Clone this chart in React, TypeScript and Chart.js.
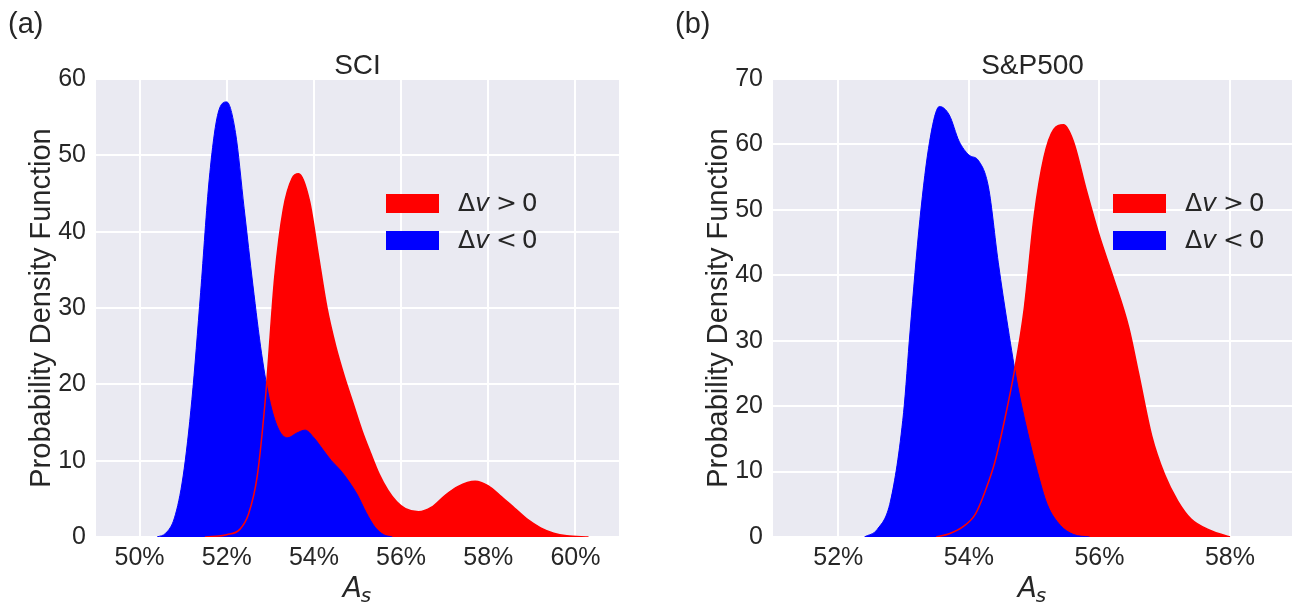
import React, { useEffect, useRef } from "react";
import { Chart, registerables } from "chart.js";
Chart.register(...registerables);

// ---- Data ----
const sciXTicks = [50, 52, 54, 56, 58, 60];
const sciYTicks = [0, 10, 20, 30, 40, 50, 60];
const spXTicks = [52, 54, 56, 58];
const spYTicks = [0, 10, 20, 30, 40, 50, 60, 70];

// SCI, Δv > 0 (red)
const sciPosX = [51.5, 52.0, 52.3, 52.5, 52.7, 52.9, 53.1, 53.3, 53.5, 53.65, 53.9, 54.1, 54.3, 54.5, 54.7, 54.9, 55.1, 55.3, 55.5, 55.7, 55.9, 56.1, 56.4, 56.7, 57.0, 57.3, 57.7, 58.0, 58.3, 58.6, 58.9, 59.2, 59.5, 59.8, 60.3];
const sciPosY = [0, 0.3, 1, 3, 8, 19, 34, 43, 47, 47.6, 44, 37, 30, 25, 21, 17.5, 14, 11, 8.2, 6.1, 4.6, 3.7, 3.3, 3.9, 5.4, 6.6, 7.3, 6.7, 5.3, 3.8, 2.3, 1.2, 0.5, 0.15, 0];
// SCI, Δv < 0 (blue)
const sciNegX = [50.4, 50.6, 50.8, 51.0, 51.2, 51.4, 51.6, 51.8, 52.0, 52.2, 52.4, 52.6, 52.8, 53.0, 53.2, 53.4, 53.6, 53.8, 54.0, 54.2, 54.4, 54.6, 54.8, 55.0, 55.2, 55.4, 55.6, 55.8];
const sciNegY = [0, 0.5, 2.5, 8, 18, 32, 47, 55.5, 57, 53, 43, 33, 24, 17.5, 14, 13, 13.6, 14, 13, 11.5, 10, 8.8, 7.3, 5.5, 3.2, 1.3, 0.3, 0];

// S&P500, Δv > 0 (red)
const spPosX = [53.5, 53.7, 53.9, 54.1, 54.25, 54.4, 54.55, 54.7, 54.85, 55.0, 55.15, 55.3, 55.45, 55.6, 55.8, 56.0, 56.2, 56.45, 56.6, 56.8, 57.0, 57.2, 57.4, 57.7, 58.0];
const spPosY = [0, 0.5, 1.5, 3.5, 7, 11.5, 18, 25.5, 35, 49, 58, 62.3, 63, 60.5, 53, 46, 40, 32, 25, 15.5, 9.5, 5.5, 2.8, 1, 0];
// S&P500, Δv < 0 (blue)
const spNegX = [52.4, 52.6, 52.8, 53.0, 53.1, 53.25, 53.4, 53.55, 53.7, 53.85, 54.0, 54.15, 54.3, 54.45, 54.6, 54.75, 54.9, 55.05, 55.2, 55.4, 55.6, 55.85];
const spNegY = [0, 1.2, 5.5, 19, 31.5, 48.5, 60.5, 65.8, 64.5, 60.5, 58.4, 57.5, 53.5, 42, 32, 23, 16, 10, 5, 1.8, 0.4, 0];

const legendLabels = ["Δv > 0", "Δv < 0"];

const TEXT = "#262626";
const BG = "#EAEAF2";
const SANS = "'Liberation Sans', Arial, sans-serif";
const MATH = "'DejaVu Sans', sans-serif";

const pts = (xs: number[], ys: number[]) => xs.map((x, i) => ({ x, y: ys[i] }));

type PanelCfg = {
  letter: string;
  title: string;
  canvasLeft: number;
  canvasWidth: number;
  yWidth: number;
  rightPad: number;
  xMin: number;
  xMax: number;
  yMax: number;
  xTicks: number[];
  yTicks: number[];
  posX: number[];
  posY: number[];
  negX: number[];
  negY: number[];
  legendX: number;
  yTitlePad: number;
};

function drawMathLabel(ctx: CanvasRenderingContext2D, label: string, x: number, y: number) {
  const parts = label.split("v");
  ctx.fillStyle = TEXT;
  ctx.textBaseline = "middle";
  ctx.textAlign = "left";
  let cx = x;
  ctx.font = `25px ${MATH}`;
  ctx.fillText(parts[0], cx, y);
  cx += ctx.measureText(parts[0]).width;
  ctx.font = `italic 25px ${MATH}`;
  ctx.fillText("v", cx, y);
  cx += ctx.measureText("v").width + 6;
  ctx.font = `25px ${MATH}`;
  const rest = parts[1].trim();
  const [op, num] = rest.split(" ");
  ctx.fillText(op, cx, y);
  cx += ctx.measureText(op).width + 5;
  ctx.fillText(num, cx, y);
}

function Panel({ cfg }: { cfg: PanelCfg }) {
  const ref = useRef<HTMLCanvasElement | null>(null);
  useEffect(() => {
    if (!ref.current) return;
    const decor = {
      id: "decor",
      beforeDraw(chart: any) {
        const { ctx, chartArea: a } = chart;
        ctx.save();
        ctx.fillStyle = BG;
        ctx.fillRect(a.left, a.top, a.right - a.left, a.bottom - a.top);
        ctx.restore();
      },
      afterDraw(chart: any) {
        const { ctx, chartArea: a } = chart;
        ctx.save();
        ctx.fillStyle = TEXT;
        ctx.font = `29px ${SANS}`;
        ctx.textAlign = "left";
        ctx.textBaseline = "middle";
        ctx.fillText(cfg.letter, cfg.canvasLeft === 0 ? 8 : 25, 25);
        ctx.font = `28px ${SANS}`;
        ctx.textAlign = "center";
        ctx.textBaseline = "alphabetic";
        ctx.fillText(cfg.title, (a.left + a.right) / 2, 74);
        const cxm = (a.left + a.right) / 2;
        ctx.font = `italic 28px ${MATH}`;
        const wA = ctx.measureText("A").width;
        ctx.font = `italic 20px ${MATH}`;
        const wS = ctx.measureText("s").width;
        const start = cxm - (wA + wS) / 2;
        ctx.textAlign = "left";
        ctx.font = `italic 28px ${MATH}`;
        ctx.fillText("A", start, 597);
        ctx.font = `italic 20px ${MATH}`;
        ctx.fillText("s", start + wA - 1, 602);
        const colors = ["#FF0000", "#0000FF"];
        const tops = [194, 231];
        legendLabels.forEach((lab, i) => {
          ctx.fillStyle = colors[i];
          ctx.fillRect(cfg.legendX, tops[i], 53, 19);
          drawMathLabel(ctx, lab, cfg.legendX + 72, tops[i] + 10);
        });
        ctx.restore();
      },
    };

    const chart = new Chart(ref.current, {
      type: "line",
      data: {
        datasets: [
          {
            label: "pos-fill",
            data: pts(cfg.posX, cfg.posY),
            backgroundColor: "#FF0000",
            borderWidth: 0,
            borderColor: "rgba(0,0,0,0)",
            fill: "origin",
            order: 3,
          },
          {
            label: "neg-fill",
            data: pts(cfg.negX, cfg.negY),
            backgroundColor: "#0000FF",
            borderColor: "#0000FF",
            borderWidth: 1,
            fill: "origin",
            order: 2,
          },
          {
            label: "pos-line",
            data: pts(cfg.posX, cfg.posY),
            borderColor: "#FF0000",
            borderWidth: 1.5,
            fill: false,
            order: 1,
          },
        ],
      },
      options: {
        animation: false,
        responsive: false,
        devicePixelRatio: 1,
        elements: {
          point: { radius: 0, hoverRadius: 0 },
          line: { cubicInterpolationMode: "monotone" },
        },
        layout: { padding: { left: 0, top: 79, right: cfg.rightPad, bottom: 0 } },
        plugins: {
          legend: { display: false },
          tooltip: { enabled: false },
          title: { display: false },
        },
        scales: {
          x: {
            type: "linear",
            min: cfg.xMin,
            max: cfg.xMax,
            afterBuildTicks: (s: any) => {
              s.ticks = cfg.xTicks.map((v) => ({ value: v }));
            },
            afterFit: (s: any) => {
              s.height = 602 - 537;
            },
            grid: { color: "#FFFFFF", lineWidth: 2, drawTicks: false },
            border: { display: false },
            ticks: {
              padding: 6,
              color: TEXT,
              font: { family: SANS, size: 25 },
              maxRotation: 0,
              callback: (v: any) => `${v}%`,
            },
          },
          y: {
            type: "linear",
            min: 0,
            max: cfg.yMax,
            afterBuildTicks: (s: any) => {
              s.ticks = cfg.yTicks.map((v) => ({ value: v }));
            },
            afterFit: (s: any) => {
              s.width = cfg.yWidth;
            },
            grid: { color: "#FFFFFF", lineWidth: 2, drawTicks: false },
            border: { display: false },
            ticks: {
              padding: 10,
              color: TEXT,
              font: { family: SANS, size: 25 },
            },
            title: {
              display: true,
              text: "Probability Density Function",
              color: TEXT,
              font: { family: SANS, size: 29 },
              padding: { top: cfg.yTitlePad, bottom: 0 },
            },
          },
        },
      } as any,
      plugins: [decor],
    });
    return () => chart.destroy();
  }, [cfg]);

  return (
    <canvas
      ref={ref}
      width={cfg.canvasWidth}
      height={602}
      style={{ position: "absolute", left: cfg.canvasLeft, top: 0, width: cfg.canvasWidth, height: 602 }}
    />
  );
}

const panelA: PanelCfg = {
  letter: "(a)",
  title: "SCI",
  canvasLeft: 0,
  canvasWidth: 645,
  yWidth: 96,
  rightPad: 645 - 619,
  xMin: 49,
  xMax: 61,
  yMax: 60,
  xTicks: sciXTicks,
  yTicks: sciYTicks,
  posX: sciPosX,
  posY: sciPosY,
  negX: sciNegX,
  negY: sciNegY,
  legendX: 386,
  yTitlePad: 25,
};

const panelB: PanelCfg = {
  letter: "(b)",
  title: "S&P500",
  canvasLeft: 650,
  canvasWidth: 645,
  yWidth: 123,
  rightPad: 645 - 642,
  xMin: 51,
  xMax: 58.95,
  yMax: 70,
  xTicks: spXTicks,
  yTicks: spYTicks,
  posX: spPosX,
  posY: spPosY,
  negX: spNegX,
  negY: spNegY,
  legendX: 1113 - 650,
  yTitlePad: 52,
};

export default function App() {
  return (
    <div style={{ position: "fixed", left: 0, top: 0, width: 1295, height: 602, background: "#fff", overflow: "hidden" }}>
      <Panel cfg={panelA} />
      <Panel cfg={panelB} />
    </div>
  );
}
